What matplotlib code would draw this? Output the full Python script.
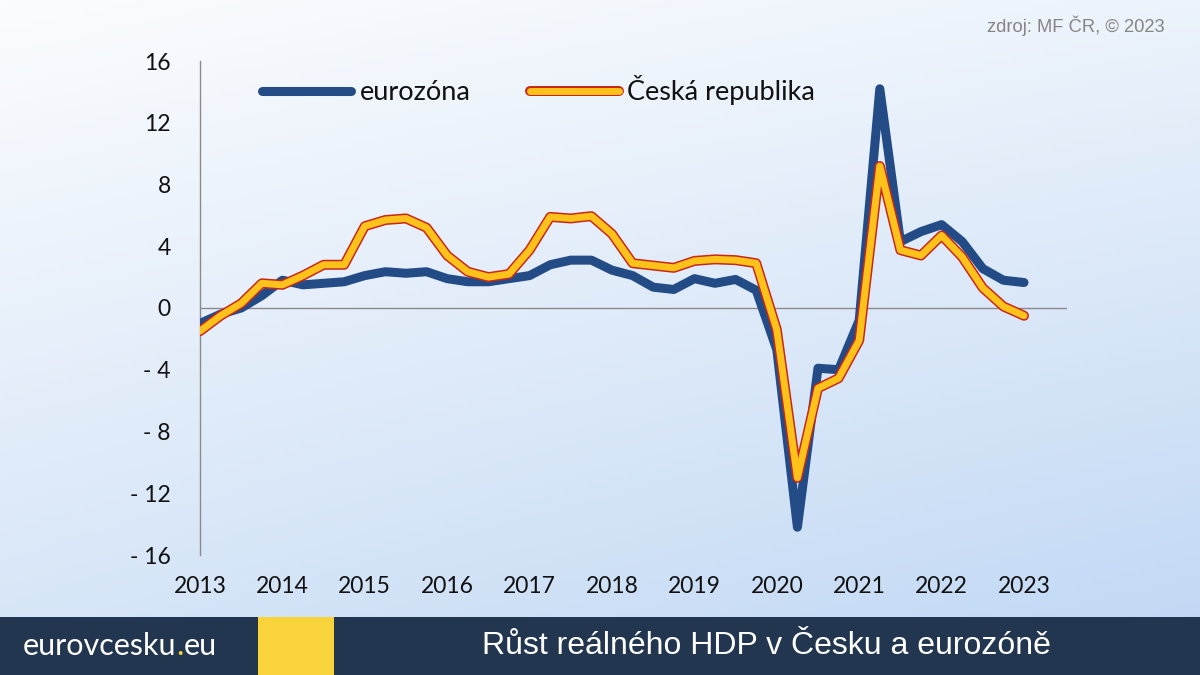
import numpy as np
import matplotlib
matplotlib.use("Agg")
import matplotlib.pyplot as plt
import matplotlib.patheffects as pe
from matplotlib.patches import Rectangle

# ---- data (year-on-year real GDP growth, %, quarterly 2013Q1 .. 2023Q1) ----
eurozone = [-1.0, -0.4, 0.0, 0.8, 1.8, 1.5, 1.6, 1.7, 2.1, 2.35, 2.25, 2.35,
            1.9, 1.7, 1.7, 1.9, 2.1, 2.8, 3.1, 3.1, 2.45, 2.1, 1.35, 1.2,
            1.9, 1.6, 1.85, 1.15, -2.7, -14.2, -3.9, -4.0, -0.8, 14.2, 4.3,
            4.95, 5.4, 4.3, 2.55, 1.8, 1.65]
czech = [-1.5, -0.5, 0.3, 1.6, 1.5, 2.1, 2.8, 2.8, 5.3, 5.7, 5.8, 5.2,
         3.4, 2.35, 2.0, 2.2, 3.75, 5.9, 5.8, 5.95, 4.8, 2.9, 2.75, 2.6,
         3.05, 3.15, 3.1, 2.9, -1.4, -11.0, -5.2, -4.55, -2.1, 9.2, 3.75,
         3.4, 4.7, 3.3, 1.3, 0.1, -0.5]
year_labels = ["2013", "2014", "2015", "2016", "2017", "2018", "2019",
               "2020", "2021", "2022", "2023"]
y_ticks = [16, 12, 8, 4, 0, -4, -8, -12, -16]
y_tick_labels = ["16", "12", "8", "4", "0", "- 4", "- 8", "- 12", "- 16"]
series_names = ["eurozóna", "Česká republika"]
title = "Růst reálného HDP v Česku a eurozóně"
source = "zdroj: MF ČR, © 2023"

W, H = 1200, 675
fig = plt.figure(figsize=(12, 6.75), dpi=100)

# ---- background gradient ----
bg = fig.add_axes([0, 0, 1, 1], zorder=-10)
bg.set_axis_off()
ny, nx = 120, 200
u = np.linspace(0, 1, nx)[None, :, None]
v = np.linspace(0, 1, ny)[:, None, None]
TL = np.array([251, 252, 254]) / 255
TR = np.array([236, 243, 251]) / 255
BL = np.array([212, 228, 247]) / 255
BR = np.array([190, 214, 244]) / 255
img = (TL * (1 - u) * (1 - v) + TR * u * (1 - v) + BL * (1 - u) * v + BR * u * v)
bg.imshow(img, extent=[0, 1, 0, 1], aspect="auto", origin="upper")
bg.set_xlim(0, 1)
bg.set_ylim(0, 1)

# ---- bottom band ----
band_h = (H - 617) / H
fig.patches.append(Rectangle((0, 0), 1, band_h, transform=fig.transFigure,
                             facecolor="#22374F", edgecolor="none", zorder=1))
fig.patches.append(Rectangle((258 / W, 0), (334 - 258) / W, band_h,
                             transform=fig.transFigure, facecolor="#F8D33A",
                             edgecolor="none", zorder=2))

# ---- main axes ----
x0, x1 = 200, 1067
ytop, ybot = 61, 555
ax = fig.add_axes([x0 / W, 1 - ybot / H, (x1 - x0) / W, (ybot - ytop) / H])
ax.set_facecolor("none")
step_px = 20.6
xs = np.arange(len(eurozone))
ax.set_xlim(0, (x1 - x0) / step_px)
ax.set_ylim(-16, 16)

ax.axhline(0, color="#8a8a8a", lw=1.0, zorder=1)

ez_line, = ax.plot(xs, eurozone, color="#234C86", lw=6.5,
                   solid_joinstyle="round", solid_capstyle="round",
                   label=series_names[0], zorder=3)
cz_line, = ax.plot(xs, czech, color="#FFC21A", lw=5.0,
                   solid_joinstyle="round", solid_capstyle="round",
                   label=series_names[1], zorder=4,
                   path_effects=[pe.Stroke(linewidth=7.2, foreground="#C8281C"),
                                 pe.Normal()])

for s in ["top", "right", "bottom"]:
    ax.spines[s].set_visible(False)
ax.spines["left"].set_color("#8a8a8a")
ax.spines["left"].set_linewidth(1.0)

ax.set_yticks(y_ticks)
ax.set_yticklabels(y_tick_labels)
ax.set_xticks(np.arange(0, len(eurozone), 4))
ax.set_xticklabels(year_labels)
ax.tick_params(axis="y", length=0, pad=21, labelsize=16.5, labelcolor="#111111")
ax.tick_params(axis="x", length=0, pad=15, labelsize=16.5, labelcolor="#111111")
for lab in ax.get_xticklabels() + ax.get_yticklabels():
    lab.set_fontfamily("Lato")

leg = ax.legend(handles=[ez_line, cz_line], loc="center left",
                bbox_to_anchor=((262 - x0) / (x1 - x0), (ybot - 90) / (ybot - ytop)),
                ncol=2, frameon=False, borderpad=0, borderaxespad=0,
                handlelength=3.3, handletextpad=0.3, columnspacing=2.2,
                prop={"family": "Lato", "size": 19.5})
for t in leg.get_texts():
    t.set_color("#111111")

# ---- texts ----
fig.text(1165 / W, 1 - 26 / H, source, ha="right", va="center",
         fontsize=13.2, color="#858585", family="Liberation Sans")
fig.text(766 / W, 1 - 646 / H, title, ha="center", va="center",
         fontsize=23, color="white", family="Liberation Sans", zorder=5)

# logo: eurovcesku.eu with yellow dot
fig.canvas.draw()
r = fig.canvas.get_renderer()
t1 = fig.text(23 / W, 1 - 646 / H, "eurovcesku", ha="left", va="center",
              fontsize=22, color="white", family="Lato", zorder=5)
bb = t1.get_window_extent(renderer=r)
t2 = fig.text(bb.x1 / W, 1 - 646 / H, ".", ha="left", va="center",
              fontsize=22, color="#F8D33A", family="Lato", zorder=5)
bb2 = t2.get_window_extent(renderer=r)
fig.text(bb2.x1 / W, 1 - 646 / H, "eu", ha="left", va="center",
         fontsize=22, color="white", family="Lato", zorder=5)

fig.savefig("out.png", dpi=100)
